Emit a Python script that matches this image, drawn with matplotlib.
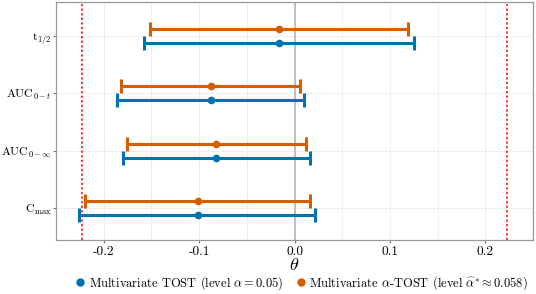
import numpy as np
import matplotlib
matplotlib.use("Agg")
from matplotlib import pyplot as plt
from matplotlib.lines import Line2D

plt.rcParams['font.family'] = 'serif'
plt.rcParams['font.serif'] = ['cmr10']
plt.rcParams['mathtext.fontset'] = 'cm'
plt.rcParams['axes.unicode_minus'] = False
plt.rcParams['axes.formatter.use_mathtext'] = True

# data, bottom to top
params = [r'$\mathrm{C}_{\max}$', r'$\mathrm{AUC}_{0-\infty}$',
          r'$\mathrm{AUC}_{0-t}$', r'$\mathrm{t}_{1/2}$']
est = [-0.101, -0.082, -0.088, -0.0166]
tost_lo = [-0.2256, -0.1796, -0.1865, -0.158]
tost_hi = [0.0218, 0.0166, 0.010, 0.1257]
atost_lo = [-0.2194, -0.1755, -0.182, -0.152]
atost_hi = [0.0163, 0.0117, 0.0055, 0.119]
margin = np.log(1.25)
xticks = [-0.2, -0.1, 0.0, 0.1, 0.2]
xticklabels = ['-0.2', '-0.1', '0.0', '0.1', '0.2']
labels = [r'Multivariate TOST (level $\alpha = 0.05$)',
          r'Multivariate $\alpha$-TOST (level $\widehat{\alpha}^{*} \approx 0.058$)']

blue = '#0072B2'
orange = '#D55E00'

fig = plt.figure(figsize=(5.36, 2.94), dpi=100)
ax = fig.add_axes([0.1045, 0.1837, 0.89, 0.8095])

y = np.arange(1, len(params) + 1)
off = 0.122

ax.axvline(0, color='#bbbbbb', lw=1.3, zorder=1)
ax.axvline(-margin, color='red', ls=(0, (1.5, 1.5)), lw=1.1, zorder=1)
ax.axvline(margin, color='red', ls=(0, (1.5, 1.5)), lw=1.1, zorder=1)

for lo, hi, yy, c in [(tost_lo, tost_hi, y - off, blue),
                      (atost_lo, atost_hi, y + off, orange)]:
    e = np.array(est)
    xerr = np.array([e - np.array(lo), np.array(hi) - e])
    ax.errorbar(e, yy, xerr=xerr, fmt='o', color=c, ms=4.5, lw=2.2,
                capsize=5, capthick=2.2, zorder=3)

ax.set_xlim(-0.2477, 0.2466)
ax.set_ylim(0.44, 4.59)
ax.set_xticks(xticks)
ax.set_xticklabels(xticklabels)
ax.set_xticks(np.arange(-0.25, 0.26, 0.05), minor=True)
ax.set_yticks(y)
ax.set_yticklabels(params)
ax.tick_params(axis='x', which='major', labelsize=9.6, color='#777777',
               length=2.5, width=0.8, pad=2)
ax.tick_params(axis='y', which='major', labelsize=8.6, color='#777777',
               length=2.5, width=0.8, pad=1)
ax.tick_params(axis='x', which='minor', length=0)
ax.grid(True, which='both', color='#ebebeb', lw=0.6, zorder=0)
ax.set_axisbelow(True)
for s in ax.spines.values():
    s.set_color('#999999')
    s.set_linewidth(0.9)

ax.set_xlabel(r'$\theta$', fontsize=13, labelpad=-1)

handles = [Line2D([], [], marker='o', ls='', color=blue, ms=5),
           Line2D([], [], marker='o', ls='', color=orange, ms=5)]
fig.legend(handles, labels, loc='lower center', ncol=2, frameon=False,
           fontsize=9, bbox_to_anchor=(0.56, -0.03), handletextpad=0.1,
           columnspacing=0.8, handlelength=1.2)

fig.savefig('out.png', dpi=100)
